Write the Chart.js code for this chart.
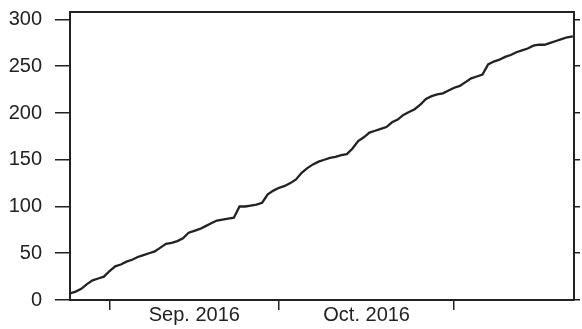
<!DOCTYPE html>
<html>
<head>
<meta charset="utf-8">
<script src="https://cdn.jsdelivr.net/npm/chart.js@4"></script>
<style>
  html, body { margin: 0; padding: 0; background: #fff; }
  #wrap { width: 582px; height: 329px; }
</style>
</head>
<body>
<div id="wrap"><canvas id="countChart"></canvas></div>
<script>
// --- data: cumulative count per day, day 0 = 1 Sep 2016 ---
const firstDay = -7; // 25 Aug 2016
const cumulativeCount = [
  7, 9, 12, 17, 21, 23, 25,
  31, 36, 38, 41, 43, 46, 48, 50, 52, 56, 60, 61, 63, 66, 72, 74, 76, 79, 82, 85, 86, 87, 88, 100, 100, 101, 102, 104, 113, 117,
  120, 122, 125, 129, 136, 141, 145, 148, 150, 152, 153, 155, 156, 162, 170, 174, 179, 181, 183, 185, 190, 193, 198, 201, 204, 209, 215, 218, 220, 221,
  224, 227, 229, 233, 237, 239, 241, 252, 255, 257, 260, 262, 265, 267, 269, 272, 273, 273, 275, 277, 279, 281, 282
];

// month boundaries (tick marks) and month names (centred in each month)
const monthStarts = [0, 30, 61];            // 1 Sep, 1 Oct, 1 Nov
const monthMids = [15, 45.5];
const monthLabels = ['Sep. 2016', 'Oct. 2016'];
const yTicks = [0, 50, 100, 150, 200, 250, 300];

const points = cumulativeCount.map((v, i) => ({ x: firstDay + i, y: v }));

const ink = '#222';
const font = { family: '"Liberation Sans", Arial, Helvetica, sans-serif', size: 20 };

// fixed axis sizes so the plot box sits where the original does
const fixWidth = (w) => (scale) => { scale.width = w; scale.paddingTop = 0; scale.paddingBottom = 0; };
const fixHeight = (h) => (scale) => { scale.height = h; scale.paddingLeft = 0; scale.paddingRight = 0; };

const ctx = document.getElementById('countChart').getContext('2d');
new Chart(ctx, {
  type: 'line',
  data: {
    datasets: [{
      data: points,
      borderColor: ink,
      borderWidth: 2.3,
      pointRadius: 0,
      tension: 0,
      fill: false
    }]
  },
  options: {
    responsive: true,
    maintainAspectRatio: false,
    animation: false,
    layout: { padding: 0 },
    plugins: { legend: { display: false }, tooltip: { enabled: false } },
    scales: {
      x: {
        type: 'linear',
        position: 'bottom',
        min: -7,
        max: 82.2,
        afterBuildTicks: (scale) => {
          const t = [];
          monthStarts.forEach(v => t.push({ value: v }));
          monthMids.forEach(v => t.push({ value: v }));
          t.sort((a, b) => a.value - b.value);
          scale.ticks = t;
        },
        afterFit: fixHeight(29),
        ticks: {
          autoSkip: false,
          maxRotation: 0,
          padding: -7,
          color: ink,
          font: font,
          callback: function (value) {
            const i = monthMids.indexOf(value);
            return i >= 0 ? monthLabels[i] : '';
          }
        },
        grid: {
          drawOnChartArea: false,
          tickLength: 10,
          lineWidth: 1.5,
          tickColor: (c) => (c.tick && monthStarts.includes(c.tick.value)) ? ink : 'rgba(0,0,0,0)'
        },
        border: { display: true, color: ink, width: 2 }
      },
      xTop: {
        type: 'linear',
        position: 'top',
        min: -7,
        max: 82.2,
        afterFit: fixHeight(12),
        ticks: { display: false },
        grid: { drawOnChartArea: false, drawTicks: false },
        border: { display: true, color: ink, width: 2 }
      },
      y: {
        position: 'left',
        min: 0,
        max: 308,
        afterBuildTicks: (scale) => { scale.ticks = yTicks.map(v => ({ value: v })); },
        afterFit: fixWidth(70),
        ticks: { color: ink, font: font, padding: 13 },
        grid: { drawOnChartArea: false, tickLength: 15, lineWidth: 1.5, color: ink },
        border: { display: true, color: ink, width: 2 }
      },
      yRight: {
        position: 'right',
        min: 0,
        max: 308,
        afterBuildTicks: (scale) => { scale.ticks = yTicks.map(v => ({ value: v })); },
        afterFit: fixWidth(8),
        ticks: { display: false },
        grid: { drawOnChartArea: false, tickLength: 6, lineWidth: 1.5, color: ink },
        border: { display: true, color: ink, width: 2 }
      }
    }
  }
});
</script>
</body>
</html>
